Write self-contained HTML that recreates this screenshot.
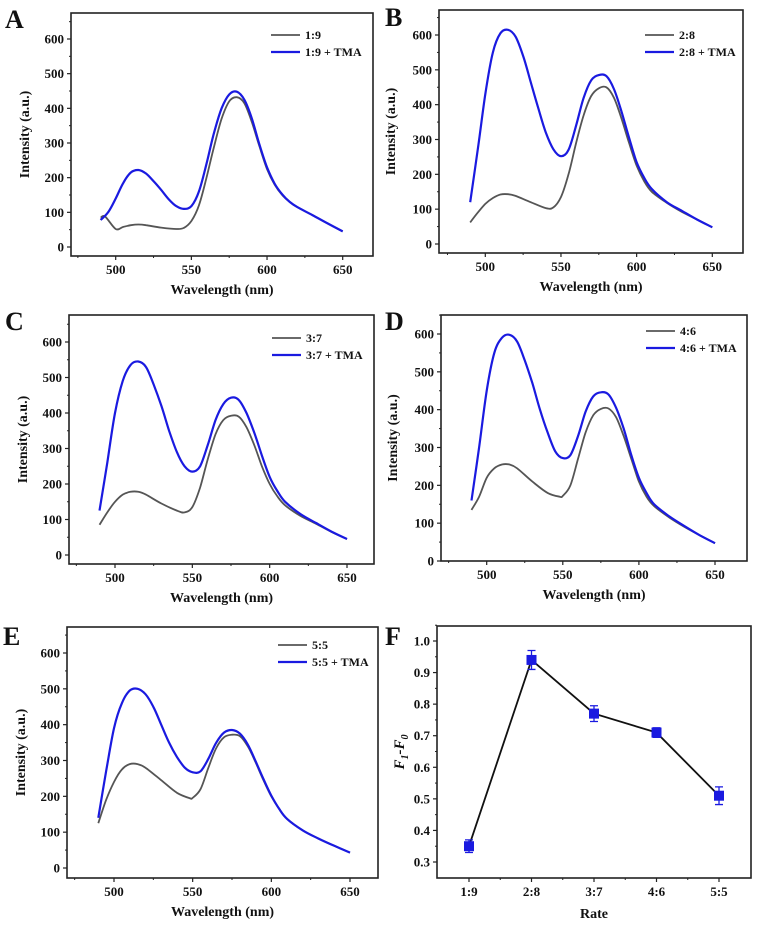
<!DOCTYPE html>
<html><head><meta charset="utf-8"><style>
html,body{margin:0;padding:0;background:#fff}
svg{display:block}
text{font-family:"Liberation Serif",serif;font-weight:bold;fill:#111}
</style></head><body>
<svg id="fig" width="758" height="929" viewBox="0 0 758 929"></svg>
<script>
const wlA=[490,493,500,505,510,515,520,530,540,545,550,555,560,565,570,575,580,585,590,595,600,605,610,615,620,630,640,650];
const grayA=[85,88,52,58,63,65,63,56,52,55,75,120,200,290,370,420,432,415,360,290,225,180,150,130,115,92,68,45];
const wlAb=[490,495,500,505,510,515,520,525,530,535,540,545,550,555,560,565,570,575,580,585,590,595,600,605,610,615,620,630,640,650];
const blueA=[78,100,140,185,215,222,212,190,165,138,118,110,118,160,240,330,400,440,448,425,370,295,230,183,152,130,115,92,68,45];

const wlB=[490,495,500,505,510,515,520,530,540,545,550,555,560,565,570,575,580,585,590,595,600,605,610,620,630,640,650];
const grayB=[62,90,115,132,142,143,138,120,103,105,135,200,290,370,425,447,450,420,360,290,225,180,150,118,92,70,48];
const wlBb=[490,495,500,505,510,515,520,525,530,535,540,545,550,555,560,565,570,575,580,585,590,595,600,605,610,620,630,640,650];
const blueB=[120,270,430,550,605,615,595,540,465,390,320,272,252,270,340,420,470,485,482,445,380,305,235,190,158,120,95,70,48];

const wlC=[490,495,500,505,510,515,520,530,540,545,550,555,560,565,570,575,580,585,590,595,600,605,610,620,630,640,650];
const grayC=[85,120,150,170,178,178,170,145,125,120,135,190,270,340,380,392,390,360,310,250,200,165,140,110,88,65,45];
const wlCb=[490,495,500,505,510,515,520,525,530,535,540,545,550,555,560,565,570,575,580,585,590,595,600,605,610,620,630,640,650];
const blueC=[125,260,400,490,535,545,530,480,420,350,290,250,235,250,310,380,425,443,437,400,345,280,220,180,150,115,90,66,45];

const wlD=[490,495,500,505,510,515,520,530,540,548,550,555,560,565,570,575,580,585,590,595,600,605,610,620,630,640,650];
const grayD=[135,170,220,245,255,255,245,210,180,170,172,200,270,340,385,402,403,380,330,270,210,170,145,115,90,68,47];
const wlDb=[490,495,500,505,510,515,520,525,530,535,540,545,550,555,560,565,570,575,580,585,590,595,600,605,610,620,630,640,650];
const blueD=[160,300,450,550,590,598,580,530,470,400,340,290,272,280,330,395,435,446,440,405,350,280,220,180,150,118,92,68,47];

const wlE=[490,495,500,505,510,515,520,530,540,548,550,555,560,565,570,575,580,585,590,595,600,605,610,620,630,640,650];
const grayE=[125,190,240,275,290,290,280,245,210,195,196,220,280,335,365,372,368,340,295,245,200,165,137,105,82,62,43];
const wlEb=[490,495,500,505,510,515,520,525,530,535,540,545,550,555,560,565,570,575,580,585,590,595,600,605,610,620,630,640,650];
const blueE=[140,270,390,460,495,500,485,450,400,350,310,280,267,270,305,350,378,385,375,345,298,248,202,165,137,105,82,62,43];

const yTicks=[0,100,200,300,400,500,600];
const xTicks=[500,550,600,650];

const rates=["1:9","2:8","3:7","4:6","5:5"];
const fVals=[0.35,0.94,0.77,0.71,0.51];
const fErr=[0.02,0.03,0.025,0.015,0.028];
const fTicks=[0.3,0.4,0.5,0.6,0.7,0.8,0.9,1.0];

const NS="http://www.w3.org/2000/svg";
const svg=document.getElementById('fig');
function mk(tag,attrs,parent,txt){const e=document.createElementNS(NS,tag);for(const k in attrs)e.setAttribute(k,attrs[k]);if(txt!==undefined)e.textContent=txt;(parent||svg).appendChild(e);return e;}
function smooth(pts){let d='M'+pts[0][0].toFixed(1)+','+pts[0][1].toFixed(1);
 for(let i=0;i<pts.length-1;i++){const p0=pts[i-1]||pts[i],p1=pts[i],p2=pts[i+1],p3=pts[i+2]||p2;
 const c1=[p1[0]+(p2[0]-p0[0])/6,p1[1]+(p2[1]-p0[1])/6],c2=[p2[0]-(p3[0]-p1[0])/6,p2[1]-(p3[1]-p1[1])/6];
 d+='C'+c1[0].toFixed(1)+','+c1[1].toFixed(1)+' '+c2[0].toFixed(1)+','+c2[1].toFixed(1)+' '+p2[0].toFixed(1)+','+p2[1].toFixed(1);}return d;}

const panels=[
 {id:'a',letter:'A',lx:5,ly:28,L:71,R:373,T:13,B:256,y0:247,y600:39,x500:115.7,x650:342.7,wg:wlA,g:grayA,wb:wlAb,b:blueA,lab:'1:9',legX:271,legY:35},
 {id:'b',letter:'B',lx:385,ly:26,L:439,R:743,T:10,B:253,y0:244,y600:35,x500:485.3,x650:712.3,wg:wlB,g:grayB,wb:wlBb,b:blueB,lab:'2:8',legX:645,legY:35},
 {id:'c',letter:'C',lx:5,ly:330,L:69,R:374,T:315,B:564,y0:555,y600:342,x500:115,x650:347,wg:wlC,g:grayC,wb:wlCb,b:blueC,lab:'3:7',legX:272,legY:338},
 {id:'d',letter:'D',lx:385,ly:330,L:441,R:747,T:315,B:561,y0:561,y600:334,x500:486.7,x650:715,wg:wlD,g:grayD,wb:wlDb,b:blueD,lab:'4:6',legX:646,legY:331},
 {id:'e',letter:'E',lx:3,ly:645,L:67,R:378,T:627,B:878,y0:868,y600:653,x500:114,x650:350,wg:wlE,g:grayE,wb:wlEb,b:blueE,lab:'5:5',legX:278,legY:645}
];

panels.forEach(p=>{
 const g=mk('g',{});
 
 
 const X=w=>p.x500+(w-500)*(p.x650-p.x500)/150;
 const Y=v=>p.y0+(v)*(p.y600-p.y0)/600;
 const lt=mk('text',{x:p.lx,y:p.ly,'font-size':26},g,p.letter);
 
 
 const fr=mk('rect',{x:p.L,y:p.T,width:p.R-p.L,height:p.B-p.T,fill:'none',stroke:'#222','stroke-width':1.6},g);
 
 
 yTicks.forEach(v=>{const y=Y(v);
  mk('line',{x1:p.L-4,x2:p.L,y1:y,y2:y,stroke:'#222','stroke-width':1.2},g);
  mk('line',{x1:p.L-2,x2:p.L,y1:Y(v+50),y2:Y(v+50),stroke:'#222','stroke-width':1},g);
  const t=mk('text',{x:p.L-7,y:y+4.5,'font-size':13,'text-anchor':'end'},g,String(v));
  
  });
 [475,525,575,625].forEach(w=>mk('line',{x1:X(w),x2:X(w),y1:p.B,y2:p.B+2,stroke:'#222','stroke-width':1},g));
 xTicks.forEach(w=>{const x=X(w);
  mk('line',{x1:x,x2:x,y1:p.B,y2:p.B+4,stroke:'#222','stroke-width':1.2},g);
  const t=mk('text',{x:x,y:p.B+18,'font-size':13,'text-anchor':'middle'},g,String(w));
  
  });
 const xt=mk('text',{x:(p.L+p.R)/2,y:p.B+38,'font-size':14,'text-anchor':'middle'},g,'Wavelength (nm)');
 
 
 const cy=(p.T+p.B)/2;
 const tx=p.L-46+(p.id==='b'||p.id==='d'?2:4);
 const yt=mk('text',{x:tx,y:cy,'font-size':14,'text-anchor':'middle',transform:'rotate(-90 '+tx+' '+cy+')'},g,'Intensity (a.u.)');
 
 
 const gp=mk('path',{d:smooth(p.wg.map((w,i)=>[X(w),Y(p.g[i])])),fill:'none',stroke:'#555','stroke-width':1.8},g);
 
 
 const bp=mk('path',{d:smooth(p.wb.map((w,i)=>[X(w),Y(p.b[i])])),fill:'none',stroke:'#1a1ae0','stroke-width':2.2},g);
 
 
 mk('line',{x1:p.legX,x2:p.legX+29,y1:p.legY,y2:p.legY,stroke:'#555','stroke-width':1.8},g);
 const l1=mk('text',{x:p.legX+34,y:p.legY+4,'font-size':12},g,p.lab);
 
 
 mk('line',{x1:p.legX,x2:p.legX+29,y1:p.legY+17,y2:p.legY+17,stroke:'#1a1ae0','stroke-width':2.2},g);
 const l2=mk('text',{x:p.legX+34,y:p.legY+21,'font-size':12},g,p.lab+' + TMA');
 
 
});

// Panel F
(function(){
 const L=437,R=751,T=626,B=878,y1=641,y03=862,c0=469,c4=719;
 const g=mk('g',{});
 
 
 const Y=v=>y03+(v-0.3)*(y1-y03)/0.7;
 const X=i=>c0+i*(c4-c0)/4;
 const lt=mk('text',{x:385,y:645,'font-size':26},g,'F');
 
 
 const fr=mk('rect',{x:L,y:T,width:R-L,height:B-T,fill:'none',stroke:'#222','stroke-width':1.6},g);
 
 
 fTicks.forEach(v=>{const y=Y(v);
  mk('line',{x1:L-4,x2:L,y1:y,y2:y,stroke:'#222','stroke-width':1.2},g);
  mk('line',{x1:L-2,x2:L,y1:Y(v+0.05),y2:Y(v+0.05),stroke:'#222','stroke-width':1},g);
  const t=mk('text',{x:L-7,y:y+4.5,'font-size':13,'text-anchor':'end'},g,v.toFixed(1));
  
  });
 rates.forEach((r,i)=>{const x=X(i);
  mk('line',{x1:x,x2:x,y1:B,y2:B+4,stroke:'#222','stroke-width':1.2},g);
  if(i<4)mk('line',{x1:x+(c4-c0)/8,x2:x+(c4-c0)/8,y1:B,y2:B+2,stroke:'#222','stroke-width':1},g);
  const t=mk('text',{x:x,y:B+18,'font-size':13,'text-anchor':'middle'},g,r);
  
  });
 const xt=mk('text',{x:(L+R)/2,y:B+40,'font-size':14,'text-anchor':'middle'},g,'Rate');
 
 
 const cy=(T+B)/2;
 const yt=mk('text',{x:404,y:cy,'font-size':15,'text-anchor':'middle','font-style':'italic',transform:'rotate(-90 404 '+cy+')'},g);
 
 
 mk('tspan',{},yt,'F');mk('tspan',{'font-size':10,dy:4},yt,'1');mk('tspan',{dy:-4},yt,'-F');mk('tspan',{'font-size':10,dy:4},yt,'0');
 const ln=mk('polyline',{points:fVals.map((v,i)=>X(i)+','+Y(v)).join(' '),fill:'none',stroke:'#111','stroke-width':1.8},g);
 
 
 fVals.forEach((v,i)=>{const x=X(i);
  const e=mk('path',{d:`M${x},${Y(v+fErr[i])}V${Y(v-fErr[i])}M${x-4},${Y(v+fErr[i])}H${x+4}M${x-4},${Y(v-fErr[i])}H${x+4}`,stroke:'#1a1ae0','stroke-width':1.3,fill:'none'},g);
  
  
  const m=mk('rect',{x:x-5,y:Y(v)-5,width:10,height:10,fill:'#1a1ae0'},g);
  
  });
})();
</script>
</body></html>
